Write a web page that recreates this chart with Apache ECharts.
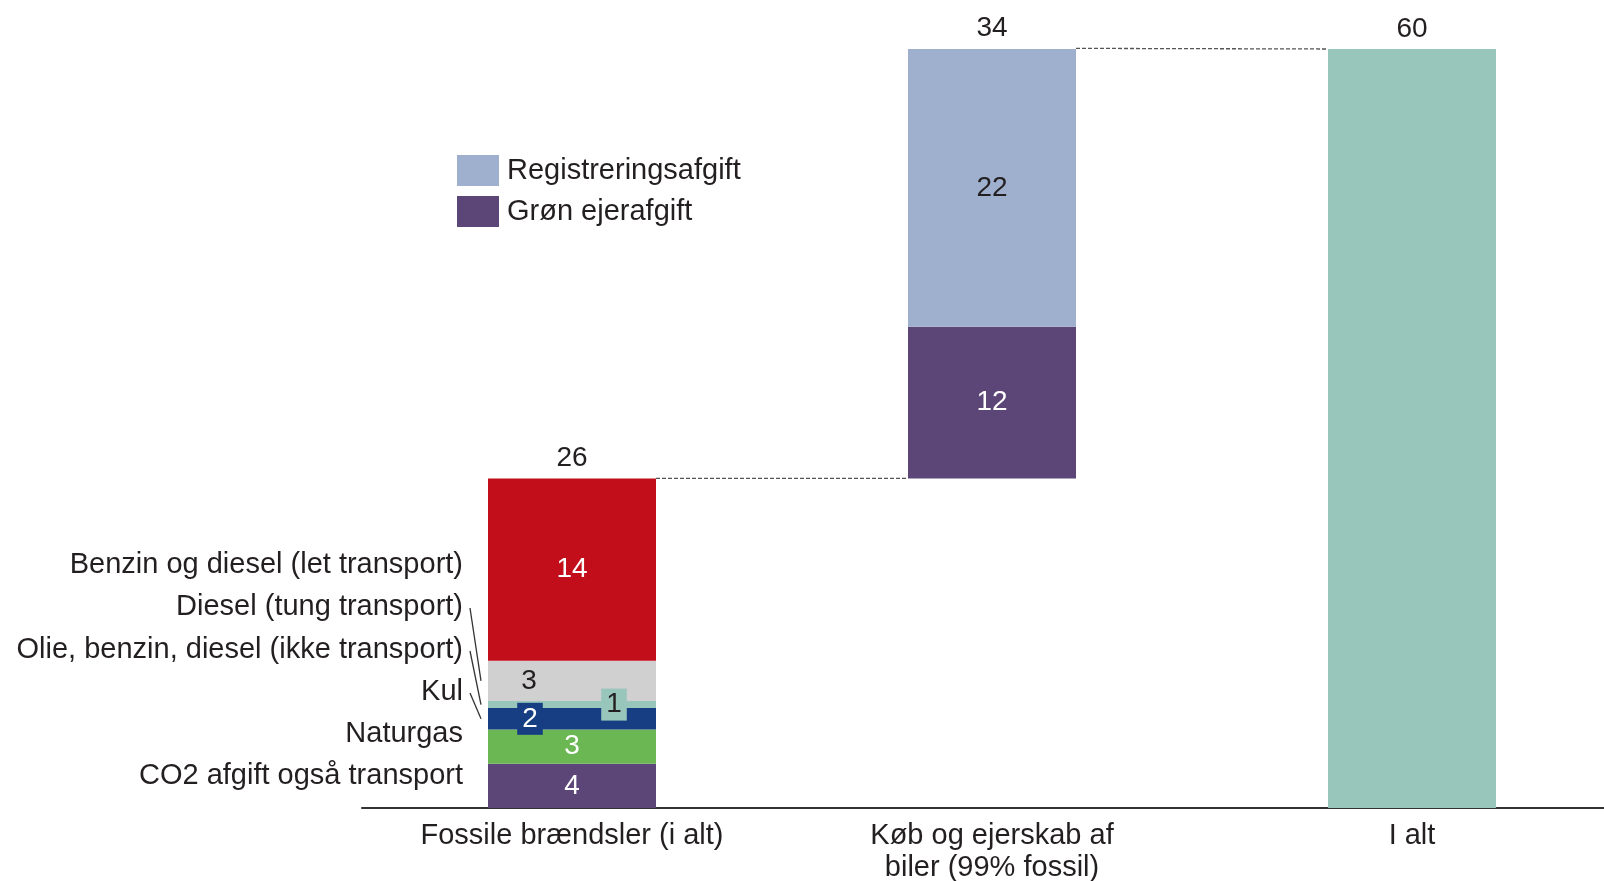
<!DOCTYPE html>
<html>
<head>
<meta charset="utf-8">
<script src="https://cdn.jsdelivr.net/npm/echarts@6/dist/echarts.min.js"></script>
<style>
  html, body { margin: 0; padding: 0; background: #fff; }
  #chart { width: 1604px; height: 881px; }
</style>
</head>
<body>
<div id="chart"></div>
<script>
    // kategorier på x-aksen
    var categories = ['Fossile brændsler (i alt)', 'Køb og ejerskab af\nbiler (99% fossil)', 'I alt'];

    // fossile brændsler, nedefra og op
    var fossilNames = ['CO2 afgift også transport', 'Naturgas', 'Kul', 'Olie, benzin, diesel (ikke transport)', 'Diesel (tung transport)', 'Benzin og diesel (let transport)'];
    var fossilValues = [3.5, 2.7, 1.7, 0.55, 3.2, 14.4];
    var fossilColors = ['#5c4577', '#6ab753', '#173d82', '#98c6ba', '#d0d0d0', '#c20e1a'];

    // køb og ejerskab af biler
    var carNames = ['Grøn ejerafgift', 'Registreringsafgift'];
    var carValues = [12, 22];
    var carColors = ['#5c4577', '#9eb0cd'];

    var totalValue = 60;
    var totalColor = '#98c6ba';

    var font = "'Liberation Sans', Arial, sans-serif";
    var txt = '#231f20';
    var fs = 29;

    var fossilSum = fossilValues.reduce(function (a, b) { return a + b; }, 0);
    var carSum = carValues.reduce(function (a, b) { return a + b; }, 0);

    var myChart = echarts.init(document.getElementById('chart'));

    var series = [];
    // usynlig base til vandfaldet
    series.push({
        name: 'base',
        type: 'bar',
        stack: 'w',
        barWidth: '40%',
        silent: true,
        itemStyle: { color: 'transparent' },
        data: ['-', fossilSum, '-']
    });

    fossilValues.forEach(function (v, i) {
        var lbl = {
            show: true,
            position: 'inside',
            fontFamily: font,
            fontSize: 28,
            color: '#fff',
            formatter: function (p) { return Math.round(p.value); }
        };
        if (i === 4) { lbl.color = txt; lbl.offset = [-43, 0]; }
        if (i === 3) {
            lbl.color = txt; lbl.offset = [42, 0];
            lbl.backgroundColor = fossilColors[3]; lbl.padding = [3, 5, 1, 5];
        }
        if (i === 2) {
            lbl.offset = [-42, 0];
            lbl.backgroundColor = fossilColors[2]; lbl.padding = [3, 5, 1, 5];
        }
        series.push({
            name: fossilNames[i],
            type: 'bar',
            stack: 'w',
            barWidth: '40%',
            itemStyle: { color: fossilColors[i] },
            label: lbl,
            data: [v, '-', '-']
        });
    });

    carValues.forEach(function (v, i) {
        series.push({
            name: carNames[i],
            type: 'bar',
            stack: 'w',
            barWidth: '40%',
            itemStyle: { color: carColors[i] },
            label: {
                show: true,
                position: 'inside',
                fontFamily: font,
                fontSize: 28,
                color: i === 0 ? '#fff' : txt,
                formatter: function (p) { return Math.round(p.value); }
            },
            data: ['-', v, '-']
        });
    });

    series.push({
        name: 'I alt',
        type: 'bar',
        stack: 'w',
        barWidth: '40%',
        itemStyle: { color: totalColor },
        data: ['-', '-', totalValue]
    });

    // summer over søjlerne
    var totalLabels = [Math.round(fossilSum), Math.round(carSum), totalValue];
    series.push({
        name: 'sum',
        type: 'scatter',
        symbolSize: 0,
        silent: true,
        clip: false,
        itemStyle: { opacity: 1 },
        label: {
            show: true,
            position: 'top',
            distance: 6,
            fontFamily: font,
            fontSize: 28,
            color: txt,
            formatter: function (p) { return totalLabels[p.dataIndex]; }
        },
        data: [fossilSum, fossilSum + carSum, totalValue]
    });

    // stiplede forbindelseslinjer
    var dashStyle = { color: '#555', width: 1.3, type: [4, 2] };
    series.push({
        type: 'line', xAxisIndex: 1, symbol: 'none', silent: true, clip: false,
        lineStyle: dashStyle,
        data: [[0.2, fossilSum], [0.8, fossilSum]]
    });
    series.push({
        type: 'line', xAxisIndex: 1, symbol: 'none', silent: true, clip: false,
        lineStyle: dashStyle,
        data: [[1.2, fossilSum + carSum], [1.8, totalValue]]
    });

    var option = {
        animation: false,
        textStyle: { fontFamily: font },
        grid: {
            left: 362,
            right: -18,
            top: 49,
            bottom: 73,
            outerBoundsMode: 'none',
            containLabel: false
        },
        legend: {
            data: ['Registreringsafgift', 'Grøn ejerafgift'],
            orient: 'vertical',
            left: 452,
            top: 150,
            itemWidth: 42,
            itemHeight: 31,
            itemGap: 10,
            icon: 'rect',
            selectedMode: false,
            textStyle: { fontFamily: font, fontSize: fs, color: txt, padding: [0, 0, 0, 3] }
        },
        xAxis: [
            {
                type: 'category',
                data: categories,
                axisLine: { lineStyle: { color: '#333', width: 2 } },
                axisTick: { show: false },
                axisLabel: {
                    fontFamily: font,
                    fontSize: fs,
                    color: txt,
                    margin: 12,
                    lineHeight: 32,
                    interval: 0
                }
            },
            {
                type: 'value',
                min: -0.5,
                max: 2.5,
                show: false
            }
        ],
        yAxis: {
            type: 'value',
            min: 0,
            max: 60,
            show: false
        },
        series: series
    };

    myChart.setOption(option);

    // etiketter til venstre for første søjle, med ledelinjer
    var labelX = 463;
    var labelY = [776, 734, 692, 650, 607, 565];
    var graphics = [];
    var acc = 0;
    fossilValues.forEach(function (v, i) {
        var mid = acc + v / 2;
        acc += v;
        graphics.push({
            type: 'text',
            x: labelX,
            y: labelY[i],
            style: {
                text: fossilNames[i],
                fontFamily: font,
                fontSize: fs,
                fill: txt,
                align: 'right',
                verticalAlign: 'middle'
            }
        });
        if (i >= 2 && i <= 4) {
            var yMid = myChart.convertToPixel({ yAxisIndex: 0 }, mid);
            var barLeft = myChart.convertToPixel({ xAxisIndex: 1 }, -0.2);
            graphics.push({
                type: 'line',
                shape: { x1: labelX + 7, y1: labelY[i] + 1, x2: barLeft - 7, y2: yMid },
                style: { stroke: '#333', lineWidth: 1.3 }
            });
        }
    });
    myChart.setOption({ graphic: graphics });
</script>
</body>
</html>
